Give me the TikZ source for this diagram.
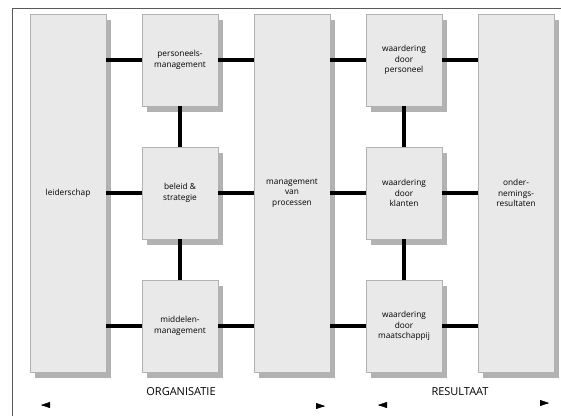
\documentclass[tikz,border=0pt]{standalone}
\usepackage{fontspec}
\setmainfont{Open Sans}
\usetikzlibrary{calc,positioning,shadows,arrows.meta}

\begin{document}
\begin{tikzpicture}[x=1pt,y=-1pt,node distance=112pt,
  blok/.style={draw=gray!60,fill=gray!17,minimum width=76pt,minimum height=92pt,
    inner sep=1pt,align=center,font=\fontsize{8.3}{10.5}\selectfont,
    drop shadow={shadow xshift=5pt,shadow yshift=-6pt,fill=gray!60,opacity=1}},
  zuil/.style={blok,minimum height=358pt},
  link/.style={line width=4pt},
  kop/.style={font=\fontsize{11}{13}\selectfont},
  pijl/.style={-{Triangle[length=9pt,width=6pt]}}]
  \useasboundingbox (0,0) rectangle (561,416);
  \draw[gray!70!black] (12,416) -- (12,8) -- (561,8);

  \node[zuil] (leider) at (68,193) {leiderschap};
  \node[blok, right of=leider] (beleid) {beleid \&\\strategie};
  \node[blok, above of=beleid, node distance=133pt] (pers) {personeels-\\management};
  \node[blok, below of=beleid, node distance=133pt] (midd) {middelen-\\management};

  \node[zuil, right of=beleid] (proc) {management\\van\\processen};

  \node[blok, right of=proc] (klant) {waardering\\door\\klanten};
  \node[blok, above of=klant, node distance=133pt] (wpers) {waardering\\door\\personeel};
  \node[blok, below of=klant, node distance=133pt] (maat) {waardering\\door\\maatschappij};

  \node[zuil, right of=klant] (result) {onder-\\nemings-\\resultaten};

  %%%%

  \draw[link] (pers.west -| leider.east) -- (pers.west);
  \draw[link] (beleid.west -| leider.east) -- (beleid.west);
  \draw[link] (midd.west -| leider.east) -- (midd.west);
  \draw[link] (pers.east) -- (pers.east -| proc.west);
  \draw[link] (beleid.east) -- (beleid.east -| proc.west);
  \draw[link] (midd.east) -- (midd.east -| proc.west);
  \draw[link] (pers) -- (beleid);
  \draw[link] (beleid) -- (midd);

  \draw[link] (wpers.west -| proc.east) -- (wpers.west);
  \draw[link] (klant.west -| proc.east) -- (klant.west);
  \draw[link] (maat.west -| proc.east) -- (maat.west);
  \draw[link] (wpers.east) -- (wpers.east -| result.west);
  \draw[link] (klant.east) -- (klant.east -| result.west);
  \draw[link] (maat.east) -- (maat.east -| result.west);
  \draw[link] (wpers) -- (klant);
  \draw[link] (klant) -- (maat);

  %%%%

  \node[kop] (org) at (181,392) {ORGANISATIE};
  \node[kop] (res) at (460,392) {RESULTAAT};

  \coordinate (orgL) at (41,405);
  \coordinate (orgR) at (325,406);
  \coordinate (resL) at (378,405);
  \coordinate (resR) at (549,403);
  \draw[pijl] ($(orgL)+(1,0)$) -- (orgL);
  \draw[pijl] ($(orgR)-(1,0)$) -- (orgR);
  \draw[pijl] ($(resL)+(1,0)$) -- (resL);
  \draw[pijl] ($(resR)-(1,0)$) -- (resR);
\end{tikzpicture}
\end{document}
